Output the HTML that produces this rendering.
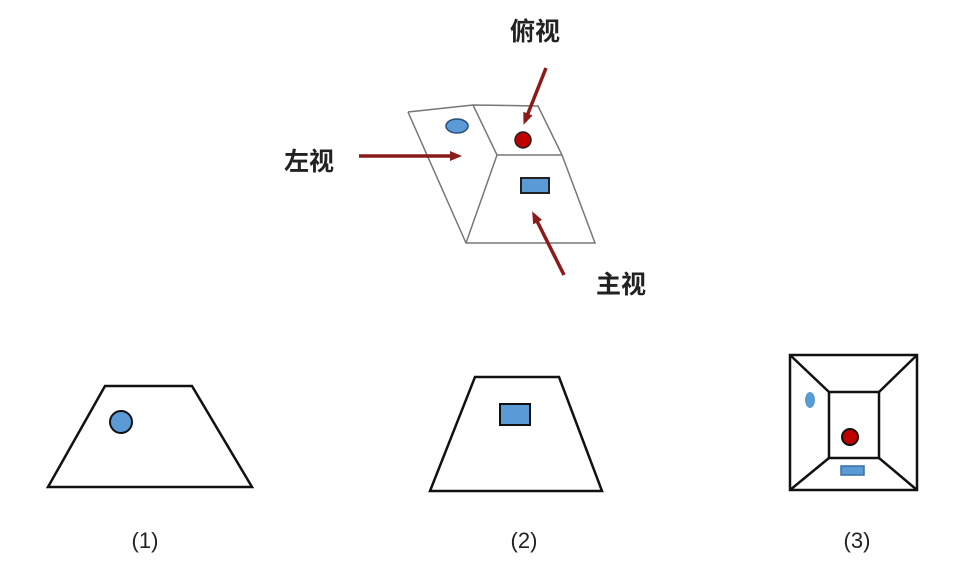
<!DOCTYPE html>
<html><head><meta charset="utf-8"><style>
html,body{margin:0;padding:0;background:#fff;width:966px;height:586px;overflow:hidden}
svg{display:block}
text{font-family:"Liberation Sans","Noto Sans CJK SC",sans-serif}
.cj{font-family:"Liberation Serif","Noto Serif CJK SC",serif}
</style></head><body>
<svg width="966" height="586" viewBox="0 0 966 586">
<defs><marker id="a" markerWidth="12" markerHeight="10" refX="8" refY="5" orient="auto" markerUnits="userSpaceOnUse"><path d="M0,0 L12,5 L0,10 Z" fill="#8b1a1a"/></marker></defs>
<g stroke="#777" stroke-width="1.5" fill="none">
<polyline points="408,112 473,105 538,106 562,155 595,243 466,243 408,112"/>
<line x1="473" y1="105" x2="497" y2="155"/>
<line x1="497" y1="155" x2="466" y2="243"/>
<line x1="497" y1="155" x2="562" y2="155"/>
</g>
<ellipse cx="457" cy="126" rx="11" ry="7" fill="#5b9bd5" stroke="#2a4d7a" stroke-width="1.5"/>
<circle cx="523" cy="140" r="8" fill="#c00000" stroke="#222" stroke-width="1.5"/>
<rect x="521" y="178" width="28" height="15" fill="#5b9bd5" stroke="#222" stroke-width="2"/>
<g stroke="#8b1a1a" stroke-width="3.5" marker-end="url(#a)">
<line x1="359" y1="156" x2="458" y2="156"/>
<line x1="546" y1="68" x2="525" y2="121"/>
<line x1="564" y1="275" x2="534" y2="215"/>
</g>
<g class="cj" font-size="25" font-weight="bold" text-anchor="middle" fill="#222">
<text x="535" y="40">俯视</text>
<text x="309" y="170">左视</text>
<text x="621" y="293">主视</text>
</g>
<g stroke="#111" stroke-width="2.5" fill="none">
<polygon points="48,487 252,487 192,386 105,386"/>
<polygon points="430,491 602,491 559,377 475,377"/>
<rect x="790" y="355" width="127" height="135"/>
<rect x="829" y="392" width="50" height="66"/>
<line x1="790" y1="355" x2="829" y2="392"/>
<line x1="917" y1="355" x2="879" y2="392"/>
<line x1="790" y1="490" x2="829" y2="458"/>
<line x1="917" y1="490" x2="879" y2="458"/>
</g>
<circle cx="121" cy="422" r="11" fill="#5b9bd5" stroke="#111" stroke-width="2"/>
<rect x="500" y="404" width="30" height="21" fill="#5b9bd5" stroke="#111" stroke-width="2"/>
<ellipse cx="810" cy="400" rx="5" ry="8" fill="#5b9bd5"/>
<circle cx="850" cy="437" r="8" fill="#c00000" stroke="#111" stroke-width="2"/>
<rect x="841" y="466" width="23" height="9" fill="#5b9bd5" stroke="#3a6fa8" stroke-width="1.5"/>
<g font-size="22" fill="#222" text-anchor="middle">
<text x="145" y="548">(1)</text>
<text x="524" y="548">(2)</text>
<text x="857" y="548">(3)</text>
</g>
</svg>
</body></html>
